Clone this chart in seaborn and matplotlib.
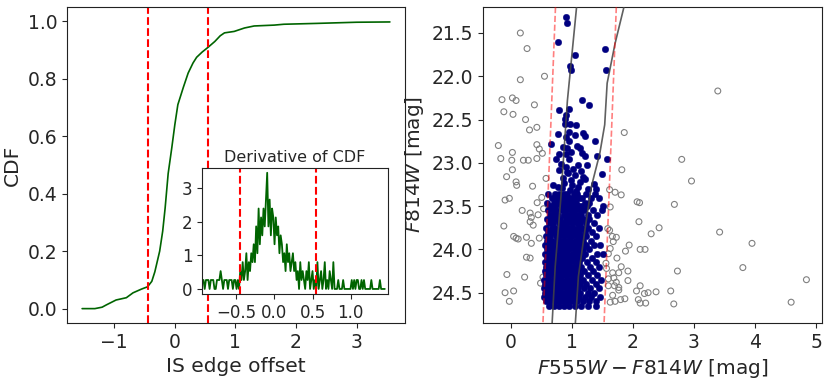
import numpy as np
import matplotlib
matplotlib.use("Agg")
import matplotlib.pyplot as plt
import seaborn as sns

sns.set_style("ticks")
plt.rcParams.update({
    'font.family': ['DejaVu Sans'],
    'xtick.labelsize': 13.5,
    'ytick.labelsize': 13.5,
    'axes.labelsize': 14.5,
    'axes.edgecolor': '#222222',
})

# --- left panel: CDF of the IS edge offset ---
cdf_x = [-1.53, -1.32, -1.2, -1.13, -0.97, -0.80, -0.69, -0.55, -0.45, -0.38, -0.33,
         -0.25, -0.2, -0.16, -0.11, -0.05, 0.0, 0.05, 0.14, 0.22, 0.30, 0.36, 0.45,
         0.55, 0.66, 0.75, 0.82, 0.98, 1.15, 1.31, 1.64, 1.80, 2.35, 3.0, 3.55]
cdf_y = [0.0, 0.0, 0.005, 0.013, 0.03, 0.038, 0.055, 0.068, 0.076, 0.095, 0.128,
         0.20, 0.27, 0.35, 0.47, 0.56, 0.64, 0.71, 0.77, 0.82, 0.855, 0.875, 0.893,
         0.91, 0.93, 0.95, 0.96, 0.965, 0.977, 0.984, 0.987, 0.99, 0.993, 0.997, 0.998]
edge_cuts = [-0.45, 0.55]

# derivative of the CDF, in steps of one star per bin
deriv_start = -0.94
deriv_step = 0.016
deriv_unit = 0.266
deriv_counts = [
    1, 1, 0, 1, 1, 1, 0, 1, 1, 1, 0, 0, 1, 1, 1, 2, 1, 0, 1, 1,
    1, 0, 1, 1, 1, 0, 1, 1, 0, 1,
    0, 2, 1, 3, 1, 2, 4, 1, 3, 2, 4, 3,
    5, 3, 7, 4, 9, 5, 8, 6, 9, 7, 10,
    13,
    7, 10, 6, 9, 8, 5, 8, 6, 7, 4, 6,
    5, 3, 4, 2, 5, 3, 4, 2, 3, 4, 2,
    3, 1, 2, 0, 3, 1, 2, 1, 0, 2, 1, 3, 0, 1, 2, 0,
    1, 0, 3, 0, 1, 2, 0, 1, 3, 0, 1, 0, 2, 1, 0, 3, 0,
    0, 0, 1, 0, 0, 0, 1, 0, 0, 0, 0, 0, 0, 1, 0, 1, 0, 1, 1, 0,
    0, 1, 0, 1, 0, 0, 0, 0, 0, 1, 0, 0, 0, 0, 0, 0, 1, 0, 0, 0, 0,
]

# --- right panel: CMD ---
field_color = [0.16, 0.27, 0.16, 0.555, 3.39, -0.14, 0.03, 0.09, 0.39, -0.11, 0.04, 0.245,
               0.43, 0.31, 1.86, -0.2, 0.43, 0.47, 0.52, 0.03, -0.16, 0.02, 0.21, 0.29,
               0.43, 2.80, 0.03, 1.82, -0.065, 0.58, 0.09, 0.10, 2.96, 0.36, 1.62, 1.71,
               1.81, 0.51, -0.09, -0.02, 0.435, 2.07, 2.11, 2.68, 1.63, 0.54, 0.19, 0.32,
               0.34, 0.45, 0.32, 0.37, 2.10, -0.11, 2.43, 1.59, 1.62, 3.42, 2.30, 0.05,
               0.09, 0.125, 0.26, 0.47, 1.665, 1.73, 1.68, 3.95, 0.34, 1.63, 1.94, 1.88,
               2.12, 2.20, 1.60, 0.26, 0.32, 1.74, 1.56, 1.81, 3.80, 1.57, 1.92, 2.73,
               -0.06, 1.67, 1.77, 1.69, 0.23, 0.53, 1.60, 1.73, 1.92, 4.84, 0.49, 1.60,
               1.70, 2.12, 1.77, 1.77, 2.06, 2.38, 2.62, -0.09, 0.05, 1.67, 2.19, 2.25,
               -0.02, 1.63, 1.71, 1.80, 1.87, 2.09, 2.12, 2.21, 2.67, 4.59]
field_mag = [21.50, 21.68, 22.04, 22.00, 22.17, 22.27, 22.25, 22.28, 22.33, 22.41, 22.44, 22.50,
             22.59, 22.62, 22.65, 22.80, 22.79, 22.84, 22.89, 22.88, 22.95, 22.97, 22.97, 22.97,
             22.95, 22.96, 23.08, 23.08, 23.16, 23.18, 23.22, 23.26, 23.21, 23.27, 23.31, 23.34,
             23.37, 23.40, 23.43, 23.41, 23.46, 23.45, 23.46, 23.48, 23.51, 23.53, 23.55, 23.58,
             23.63, 23.60, 23.68, 23.72, 23.68, 23.73, 23.75, 23.76, 23.78, 23.80, 23.82, 23.85,
             23.87, 23.88, 23.86, 23.87, 23.85, 23.86, 23.91, 23.93, 23.93, 23.99, 23.95, 24.02,
             24.00, 24.00, 24.05, 24.09, 24.10, 24.10, 24.16, 24.20, 24.21, 24.22, 24.25, 24.25,
             24.29, 24.27, 24.27, 24.33, 24.32, 24.32, 24.34, 24.38, 24.36, 24.35, 24.39, 24.42,
             24.42, 24.42, 24.44, 24.47, 24.48, 24.49, 24.48, 24.50, 24.48, 24.53, 24.51, 24.50,
             24.60, 24.61, 24.60, 24.58, 24.57, 24.58, 24.62, 24.62, 24.63, 24.61]

# cluster members above the dense part
member_top_color = [0.90, 0.925, 0.77, 1.55, 1.05, 0.98, 0.99, 1.56, 1.165, 1.28, 0.795, 0.96,
                    0.91, 0.895, 0.89, 0.97, 1.07, 0.77, 0.95, 1.19, 1.22, 0.91, 1.06, 0.955,
                    1.38, 0.66, 0.86, 0.93, 1.08, 1.14, 0.79, 0.90, 0.99, 1.17, 1.22, 1.41,
                    1.58, 0.75, 0.955, 0.83, 1.10, 1.25, 0.91, 1.02, 0.79, 1.16, 0.94, 1.50,
                    1.05, 1.19, 0.86, 0.99, 0.69, 1.37, 0.78, 1.10, 1.27, 1.40,
                    0.88, 1.01, 1.13, 0.97, 1.07, 0.84, 1.21, 0.93]
member_top_mag = [21.31, 21.38, 21.60, 21.68, 21.76, 21.88, 21.93, 21.93, 22.27, 22.33, 22.39, 22.38,
                  22.45, 22.49, 22.55, 22.55, 22.56, 22.67, 22.64, 22.66, 22.69, 22.70, 22.68, 22.75,
                  22.75, 22.78, 22.82, 22.83, 22.81, 22.83, 22.90, 22.90, 22.87, 22.89, 22.92, 22.92,
                  22.96, 22.96, 22.95, 23.01, 23.02, 23.02, 23.05, 23.07, 23.08, 23.09, 23.12, 23.13,
                  23.14, 23.16, 23.18, 23.20, 23.26, 23.24, 23.28, 23.28, 23.30, 23.30,
                  23.23, 23.26, 23.22, 23.31, 23.32, 23.29, 23.19, 23.11]

# dense part of the member sequence, one row of colours per magnitude
member_row_mag = [23.36, 23.41, 23.46, 23.50, 23.55, 23.60, 23.65, 23.70, 23.75, 23.80,
                  23.85, 23.90, 23.95, 24.00, 24.05, 24.10, 24.15, 24.20, 24.25, 24.30,
                  24.35, 24.40, 24.45, 24.50, 24.55, 24.60, 24.65]
member_row_color = [
    [0.61, 0.73, 0.80, 0.88, 0.93, 1.03, 1.09, 1.24, 1.38],
    [0.67, 0.76, 0.83, 0.90, 0.98, 1.04, 1.12, 1.17, 1.31, 1.44],
    [0.60, 0.71, 0.79, 0.85, 0.94, 1.00, 1.07, 1.21, 1.29],
    [0.65, 0.73, 0.82, 0.88, 0.95, 1.03, 1.10, 1.16, 1.25, 1.51],
    [0.61, 0.69, 0.75, 0.84, 0.91, 0.99, 1.05, 1.13, 1.20, 1.35, 1.49],
    [0.64, 0.72, 0.78, 0.87, 0.94, 1.01, 1.09, 1.16, 1.27, 1.41],
    [0.59, 0.68, 0.76, 0.81, 0.90, 0.97, 1.04, 1.11, 1.19, 1.29],
    [0.63, 0.70, 0.79, 0.86, 0.93, 1.00, 1.08, 1.14, 1.23, 1.37],
    [0.58, 0.67, 0.73, 0.82, 0.88, 0.96, 1.02, 1.10, 1.17, 1.26, 1.44],
    [0.61, 0.70, 0.77, 0.85, 0.92, 0.98, 1.06, 1.12, 1.21, 1.34],
    [0.58, 0.65, 0.74, 0.80, 0.88, 0.95, 1.01, 1.09, 1.15, 1.23, 1.40],
    [0.60, 0.68, 0.76, 0.83, 0.91, 0.97, 1.05, 1.12, 1.18, 1.31],
    [0.57, 0.65, 0.72, 0.80, 0.86, 0.94, 1.00, 1.07, 1.15, 1.24, 1.36, 1.47],
    [0.60, 0.67, 0.75, 0.82, 0.89, 0.96, 1.03, 1.11, 1.19, 1.28],
    [0.57, 0.64, 0.71, 0.79, 0.85, 0.92, 1.00, 1.06, 1.13, 1.21, 1.42, 1.52],
    [0.59, 0.66, 0.74, 0.81, 0.88, 0.95, 1.02, 1.09, 1.17, 1.33],
    [0.56, 0.63, 0.70, 0.77, 0.84, 0.91, 0.98, 1.05, 1.12, 1.25, 1.39],
    [0.58, 0.66, 0.73, 0.80, 0.87, 0.94, 1.01, 1.08, 1.16, 1.30, 1.45],
    [0.56, 0.62, 0.69, 0.76, 0.83, 0.90, 0.97, 1.04, 1.11, 1.20, 1.35],
    [0.58, 0.65, 0.72, 0.79, 0.86, 0.93, 1.00, 1.07, 1.14, 1.27, 1.42],
    [0.55, 0.62, 0.69, 0.76, 0.83, 0.90, 0.97, 1.04, 1.11, 1.19, 1.33, 1.48],
    [0.57, 0.64, 0.71, 0.78, 0.85, 0.92, 0.99, 1.06, 1.14, 1.24, 1.40],
    [0.55, 0.62, 0.69, 0.76, 0.83, 0.90, 0.97, 1.04, 1.11, 1.20, 1.30, 1.45],
    [0.57, 0.64, 0.71, 0.78, 0.85, 0.92, 0.99, 1.06, 1.14, 1.26, 1.37],
    [0.55, 0.62, 0.69, 0.76, 0.83, 0.90, 0.97, 1.04, 1.12, 1.22, 1.32, 1.46],
    [0.58, 0.65, 0.72, 0.79, 0.86, 0.93, 1.00, 1.08, 1.18, 1.28, 1.40],
    [0.63, 0.71, 0.80, 0.88, 0.96, 1.05, 1.15, 1.26, 1.39],
]

# isochrones and selection edges
iso_a_color = [1.08, 0.93, 0.82, 0.73, 0.68]
iso_a_mag = [21.2, 22.28, 23.43, 24.2, 24.85]
iso_b_color = [1.855, 1.71, 1.58, 1.54, 1.46, 1.32, 1.21, 1.11, 1.06]
iso_b_mag = [21.2, 21.62, 22.08, 22.56, 22.89, 23.28, 23.81, 24.31, 24.85]
edge_lo_color = [0.735, 0.53]
edge_hi_color = [1.73, 1.53]
edge_mag = [21.2, 24.85]

fig = plt.figure(figsize=(8.3, 3.79), dpi=100)
ax1 = fig.add_axes([0.0807, 0.1478, 0.4073, 0.8337])
ax2 = fig.add_axes([0.582, 0.1478, 0.408, 0.8337])
axin = fig.add_axes([0.2434, 0.2243, 0.2241, 0.3324])

# CDF
sns.lineplot(x=cdf_x, y=cdf_y, ax=ax1, color='darkgreen', lw=1.2)
for c in edge_cuts:
    ax1.axvline(c, color='red', ls='--', lw=1.5)
ax1.set_xlim(-1.78, 3.80)
ax1.set_ylim(-0.05, 1.05)
ax1.set_xlabel('IS edge offset')
ax1.set_ylabel('CDF')

# inset: derivative
deriv_x = deriv_start + deriv_step * np.arange(len(deriv_counts))
deriv_y = np.array(deriv_counts) * deriv_unit
sns.lineplot(x=deriv_x, y=deriv_y, ax=axin, color='darkgreen', lw=1.3)
for c in edge_cuts:
    axin.axvline(c, color='red', ls='--', lw=1.5)
axin.set_xlim(-0.943, 1.486)
axin.set_ylim(-0.15, 3.6)
axin.set_xticks([-0.5, 0.0, 0.5, 1.0])
axin.set_yticks([0, 1, 2, 3])
axin.tick_params(labelsize=12)
axin.set_title('Derivative of CDF', fontsize=11.5, pad=4)

# CMD
sns.scatterplot(x=field_color, y=field_mag, ax=ax2, s=18, facecolor='none',
                edgecolor='grey', linewidth=0.8, zorder=2)
row_c = np.concatenate([np.array(r) for r in member_row_color])
row_m = np.concatenate([[m] * len(r) for m, r in zip(member_row_mag, member_row_color)])
sns.scatterplot(x=np.concatenate([member_top_color, row_c]),
                y=np.concatenate([member_top_mag, row_m]),
                ax=ax2, s=22, color='navy', edgecolor='navy', linewidth=0.3, zorder=3)
ax2.plot(iso_a_color, iso_a_mag, color='#444444', lw=1.2, alpha=0.85, zorder=4)
ax2.plot(iso_b_color, iso_b_mag, color='#444444', lw=1.2, alpha=0.85, zorder=4)
ax2.plot(edge_lo_color, edge_mag, color='red', ls='--', lw=1.2, alpha=0.5, zorder=4)
ax2.plot(edge_hi_color, edge_mag, color='red', ls='--', lw=1.2, alpha=0.5, zorder=4)
ax2.set_xlim(-0.45, 5.09)
ax2.set_ylim(24.85, 21.2)
ax2.set_xticks([0, 1, 2, 3, 4, 5])
ax2.set_yticks([21.5, 22.0, 22.5, 23.0, 23.5, 24.0, 24.5])
ax2.set_xlabel('$F555W - F814W$ [mag]')
ax2.set_ylabel('$F814W$ [mag]')

fig.savefig('out.png', dpi=100)
